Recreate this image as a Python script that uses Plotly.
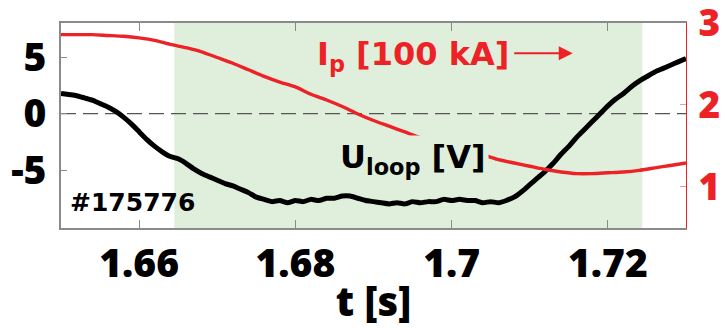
import plotly.graph_objects as go

# Loop voltage U_loop [V], sampled every 1 ms
t_u = [round(1.650 + 0.001 * i, 3) for i in range(81)]
u_loop = [
    1.8, 1.7, 1.6, 1.4, 1.2, 0.9, 0.6, 0.2, -0.3, -0.9,
    -1.6, -2.3, -2.9, -3.4, -3.8, -4.0, -4.4, -4.9, -5.3, -5.6,
    -5.9, -6.2, -6.4, -6.7, -7.0, -7.4, -7.6, -7.8, -7.7, -7.9,
    -7.7, -7.8, -7.6, -7.7, -7.5, -7.5, -7.3, -7.3, -7.5, -7.7,
    -7.8, -7.9, -8.0, -7.9, -8.0, -7.8, -7.9, -7.8, -7.8, -7.6,
    -7.7, -7.6, -7.7, -7.7, -7.9, -7.8, -7.9, -7.7, -7.4, -6.9,
    -6.3, -5.7, -5.1, -4.4, -3.6, -2.9, -2.1, -1.4, -0.7, 0.0,
    0.7, 1.3, 1.8, 2.4, 2.9, 3.3, 3.7, 4.0, 4.3, 4.6, 4.9,
]

# Plasma current I_p [100 kA], sampled every 2 ms
t_ip = [round(1.650 + 0.002 * i, 3) for i in range(41)]
i_p = [
    2.86, 2.86, 2.86, 2.85, 2.84, 2.82, 2.79, 2.74, 2.70, 2.65,
    2.58, 2.51, 2.43, 2.35, 2.28, 2.22, 2.13, 2.06, 1.98, 1.89,
    1.81, 1.74, 1.67, 1.60, 1.54, 1.49, 1.44, 1.39, 1.33, 1.29,
    1.25, 1.21, 1.18, 1.16, 1.16, 1.17, 1.18, 1.20, 1.23, 1.26, 1.29,
]

# Highlighted time window [s]
window = [1.6645, 1.7244]

x_ticks = [1.66, 1.68, 1.70, 1.72]
x_ticktext = ["1.66", "1.68", "1.7", "1.72"]
y_ticks = [-5, 0, 5]
y_ticktext = ["-5", "0", "5"]
y2_ticks = [1, 2, 3]
y2_ticktext = ["1", "2", "3"]

shot = "#175776"

RED = "#ec2227"
GREEN = "rgb(224,239,219)"
GRAY = "#8a8a8a"
TICK_FONT = "Open Sans"
LABEL_FONT = "DejaVu Sans"

fig = go.Figure()

fig.add_trace(go.Scatter(
    x=t_ip, y=i_p, yaxis="y2", mode="lines",
    line=dict(color=RED, width=3.4, shape="spline", smoothing=0.6),
    showlegend=False, hoverinfo="skip",
))
fig.add_trace(go.Scatter(
    x=t_u, y=u_loop, mode="lines",
    line=dict(color="black", width=5, shape="spline", smoothing=0.5),
    showlegend=False, hoverinfo="skip",
))

# shaded window and zero line
fig.add_shape(type="rect", xref="x", yref="paper",
              x0=window[0], x1=window[1], y0=0, y1=1,
              fillcolor=GREEN, line_width=0, layer="below")
fig.add_shape(type="line", xref="paper", yref="y",
              x0=0, x1=1, y0=0, y1=0,
              line=dict(color="#555555", width=1.2, dash="15px,7px"),
              layer="below")

fig.add_annotation(
    x=1.6951, y=0.84, xref="x", yref="paper",
    text="I<sub>p</sub> [100 kA]", showarrow=False,
    font=dict(family=LABEL_FONT, size=32, color=RED, weight="bold"),
    xanchor="center", yanchor="middle",
)
fig.add_annotation(
    x=1.7155, y=0.852, xref="x", yref="paper",
    ax=-60, ay=0, text="", showarrow=True,
    arrowhead=2, arrowsize=1.4, arrowwidth=2, arrowcolor=RED,
)
fig.add_annotation(
    x=1.6951, y=0.335, xref="x", yref="paper",
    text="U<sub>loop</sub> [V]", showarrow=False,
    font=dict(family=LABEL_FONT, size=32, color="black", weight="bold"),
    bgcolor=GREEN, borderpad=2,
    xanchor="center", yanchor="middle",
)
fig.add_annotation(
    x=0.011, y=0.124, xref="paper", yref="paper",
    text=shot, showarrow=False,
    font=dict(family=LABEL_FONT, size=25, color="black", weight="bold"),
    xanchor="left", yanchor="middle",
)

fig.update_layout(
    width=725, height=328,
    margin=dict(l=61, r=39, t=23, b=100),
    paper_bgcolor="white", plot_bgcolor="white",
    xaxis=dict(
        range=[1.65, 1.73], tickvals=x_ticks, ticktext=x_ticktext,
        ticks="inside", ticklen=8, tickcolor=GRAY, tickwidth=1,
        showline=True, linecolor=GRAY, linewidth=1.5, mirror="ticks",
        showgrid=False, zeroline=False, automargin=False,
        tickfont=dict(family=TICK_FONT, size=39, color="black", weight=800),
        title=dict(text="t [s]", standoff=4,
                   font=dict(family=TICK_FONT, size=40, color="black", weight=800)),
    ),
    yaxis=dict(
        range=[-10.14, 8.05], tickvals=y_ticks, ticktext=y_ticktext,
        ticks="inside", ticklen=6, tickcolor=GRAY, tickwidth=1,
        showline=True, linecolor=GRAY, linewidth=1.5,
        showgrid=False, zeroline=False, automargin=False,
        ticklabelstandoff=5,
        tickfont=dict(family=TICK_FONT, size=39, color="black", weight=800),
    ),
    yaxis2=dict(
        range=[0.495, 3.002], tickvals=y2_ticks, ticktext=y2_ticktext,
        overlaying="y", side="right",
        ticks="inside", ticklen=6, tickcolor="#f29a9a", tickwidth=1,
        showline=True, linecolor=RED, linewidth=1,
        showgrid=False, zeroline=False, automargin=False,
        ticklabelstandoff=4, ticklabeloverflow="allow",
        tickfont=dict(family=TICK_FONT, size=37, color=RED, weight=800),
    ),
)

fig.write_html("out.html")
